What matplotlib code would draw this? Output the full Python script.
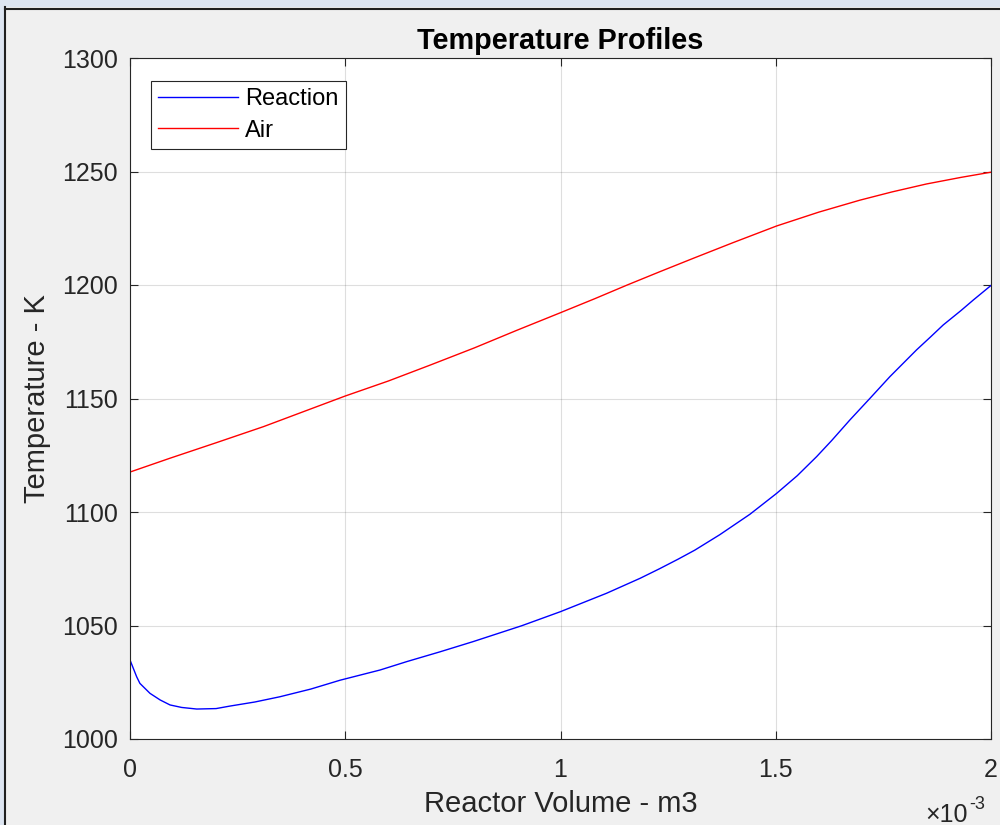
import numpy as np
import matplotlib.pyplot as plt
from matplotlib.patches import Rectangle
from matplotlib.ticker import FuncFormatter

plt.rcParams['font.family'] = ['Liberation Sans', 'DejaVu Sans']

# reactor volume (x1e-3 m3) and temperatures (K)
vol_reac = [0, 0.0155, 0.023, 0.0465, 0.07, 0.093, 0.12, 0.155, 0.2, 0.232,
            0.29, 0.348, 0.42, 0.488, 0.581, 0.643, 0.72, 0.797, 0.910, 1.000,
            1.107, 1.185, 1.23, 1.274, 1.312, 1.37, 1.440, 1.502, 1.55, 1.595,
            1.63, 1.672, 1.719, 1.765, 1.827, 1.86, 1.889, 1.93, 1.959, 2.0]
t_reac = [1034.8, 1027.4, 1024.5, 1020.1, 1017.2, 1015.0, 1013.9, 1013.2, 1013.4, 1014.5,
          1016.3, 1018.6, 1022.0, 1025.9, 1030.4, 1034.1, 1038.4, 1042.9, 1049.9, 1056.1,
          1064.2, 1070.8, 1075.0, 1079.3, 1083.2, 1090.0, 1099.0, 1108.2, 1116.0, 1124.4,
          1131.5, 1140.5, 1150.1, 1159.6, 1171.4, 1177.2, 1182.4, 1188.7, 1193.4, 1199.8]

vol_air = [0, 0.093, 0.2, 0.310, 0.4, 0.5, 0.6, 0.697, 0.8, 0.898,
           1.0, 1.08, 1.155, 1.23, 1.309, 1.4, 1.502, 1.6, 1.696, 1.77,
           1.850, 1.93, 2.0]
t_air = [1117.6, 1123.7, 1130.5, 1137.6, 1144.0, 1151.1, 1157.7, 1164.7, 1172.3, 1180.0,
         1187.8, 1194.0, 1200.0, 1205.8, 1211.8, 1218.6, 1226.0, 1232.1, 1237.4, 1241.0,
         1244.5, 1247.4, 1249.7]

fig = plt.figure(figsize=(10, 8.25), dpi=100, facecolor='#f0f0f0')
# window frame
fig.patches.append(Rectangle((0, 0.991), 1, 0.009, transform=fig.transFigure,
                             facecolor='#dde5f1', edgecolor='none', zorder=0))
fig.patches.append(Rectangle((0, 0), 0.004, 1, transform=fig.transFigure,
                             facecolor='#dde5f1', edgecolor='none', zorder=0))
fig.add_artist(plt.Line2D([0.0045, 0.0045], [0, 0.991], color='#202020', lw=1.5))
fig.add_artist(plt.Line2D([0.0045, 1], [0.9895, 0.9895], color='#202020', lw=1.5))

ax = fig.add_axes([0.130, 1 - 739 / 825, 0.861, 681 / 825])
ax.plot(np.array(vol_reac) * 1e-3, t_reac, color='#0000ff', lw=1, label='Reaction')
ax.plot(np.array(vol_air) * 1e-3, t_air, color='#ff0000', lw=1, label='Air')

ax.set_xlim(0, 0.002)
ax.set_ylim(1000, 1300)
ax.set_xticks([0, 0.0005, 0.001, 0.0015, 0.002])
ax.xaxis.set_major_formatter(FuncFormatter(lambda v, p: '%g' % round(v * 1e3, 3)))
ax.set_yticks(np.arange(1000, 1301, 50))
ax.grid(True, color='#262626', alpha=0.15, lw=0.8)
ax.tick_params(direction='in', length=5.5, width=0.8, colors='#262626',
               labelsize=18, top=True, right=True)
ax.tick_params(axis='x', pad=14)
ax.tick_params(axis='y', pad=9)
for s in ax.spines.values():
    s.set_color('#262626')
    s.set_linewidth(0.8)

ax.set_title('Temperature Profiles', fontsize=20.8, fontweight='bold', pad=6.5)
ax.set_xlabel('Reactor Volume - m3', fontsize=21, color='#262626')
ax.xaxis.set_label_coords(0.5, (739 - 790) / 681)
ax.set_ylabel('Temperature - K', fontsize=21, color='#262626')
ax.yaxis.set_label_coords((51 - 130) / 861, 0.5)

fig.text(0.968, 1 - 822 / 825, '×10', ha='right', va='baseline',
         fontsize=18, color='#262626')
fig.text(0.969, 1 - 809 / 825, '-3', ha='left', va='baseline',
         fontsize=13, color='#262626')

leg = ax.legend(loc='upper left', bbox_to_anchor=(0.0244, 0.966), fontsize=17,
                fancybox=False, framealpha=1, edgecolor='#262626',
                handlelength=3.4, borderaxespad=0, borderpad=0.3,
                labelspacing=0.4, handletextpad=0.3)
leg.get_frame().set_linewidth(0.8)

fig.savefig('out.png', dpi=100, facecolor=fig.get_facecolor())
